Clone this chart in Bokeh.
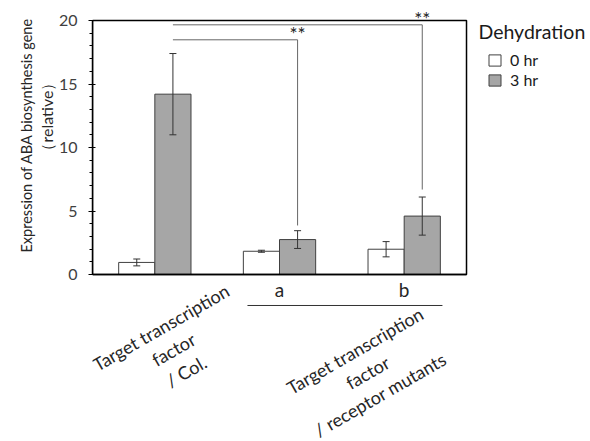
from bokeh.plotting import figure
from bokeh.models import (ColumnDataSource, Range1d, LinearAxis, SingleIntervalTicker,
                          FixedTicker, Label, Legend, LegendItem, Title, BoxAnnotation)
from bokeh.transform import dodge
from bokeh.core.properties import value
from bokeh.embed import file_html
from bokeh.resources import INLINE

# ---------------- data ----------------
groups = ["Target transcription\nfactor\n/ Col.", "a", "b"]
group_x = [0, 1, 2]
hr0 = [0.95, 1.83, 1.99]
hr0_err = [0.27, 0.08, 0.60]
hr3 = [14.2, 2.75, 4.60]
hr3_err = [3.20, 0.70, 1.50]
series_labels = ["0 hr", "3 hr"]
legend_title = "Dehydration"
y_title = "Expression of ABA biosynthesis gene"
y_subtitle = "（relative）"
group_caption = "Target transcription\nfactor\n/ receptor mutants"
sig_from = [0, 0]
sig_to = [2, 1]
sig_level = [19.66, 18.48]
sig_drop = [6.69, 3.86]
sig_text = ["**", "**"]

# ---------------- layout ----------------
FONT = "Lato"
W, H = 590, 441
LEFT = 92
PX_X, PX_Y = 124.67, 12.7
x_lo, x_hi = -0.5, 2.5
y_lo, y_hi = 0, 20
top_pad = 20
frame_w = W - LEFT
frame_h = H
x_end = x_lo + frame_w / PX_X
y_end = y_hi + top_pad / PX_Y
y_start = y_end - frame_h / PX_Y
OFF = 0.145
BW = 0.29
STAR_LIFT = 0.5
INK = "#262626"

p = figure(width=W, height=H, x_range=Range1d(x_lo, x_end), y_range=Range1d(y_start, y_end),
           output_backend="svg", toolbar_location=None, x_axis_type=None, y_axis_type=None,
           min_border_left=LEFT, min_border_right=0, min_border_top=0, min_border_bottom=0)
p.outline_line_color = None
p.background_fill_color = "white"
p.border_fill_color = "white"

yaxis = LinearAxis(bounds=(y_lo, y_hi), ticker=SingleIntervalTicker(interval=5, num_minor_ticks=5),
                   axis_line_color="black", axis_line_width=1.5,
                   major_tick_in=3, major_tick_out=4, minor_tick_in=0, minor_tick_out=3,
                   major_tick_line_color="black", minor_tick_line_color="black",
                   major_label_standoff=11, major_label_text_font=FONT,
                   major_label_text_font_size="16px", major_label_text_color="#404040")
p.add_layout(yaxis, "left")

xaxis = LinearAxis(fixed_location=0, bounds=(x_lo, x_hi), ticker=FixedTicker(ticks=[], minor_ticks=[]),
                   major_tick_in=0, major_tick_out=0, minor_tick_in=0, minor_tick_out=0,
                   major_label_standoff=0, axis_line_color="black", axis_line_width=1.5)
p.add_layout(xaxis, "below")

t1 = Title(text=y_subtitle, align="left", offset=283, standoff=0, text_font=FONT,
           text_font_size="16px", text_font_style="normal", text_color=INK)
p.add_layout(t1, "left")
t2 = Title(text=y_title, align="left", offset=189, standoff=0, text_font=FONT,
           text_font_size="14.5px", text_font_style="normal", text_color=INK)
p.add_layout(t2, "left")

src = ColumnDataSource(dict(
    x=group_x, hr0=hr0, hr3=hr3,
    hr0_lo=[v - e for v, e in zip(hr0, hr0_err)], hr0_hi=[v + e for v, e in zip(hr0, hr0_err)],
    hr3_lo=[v - e for v, e in zip(hr3, hr3_err)], hr3_hi=[v + e for v, e in zip(hr3, hr3_err)],
))

r0 = p.vbar(x=dodge("x", -OFF), top="hr0", width=BW, fill_color="white",
            line_color="#404040", line_width=1, source=src)
r3 = p.vbar(x=dodge("x", OFF), top="hr3", width=BW, fill_color="#a6a6a6",
            line_color="#404040", line_width=1, source=src)

for off, key in [(-OFF, "hr0"), (OFF, "hr3")]:
    p.segment(x0=dodge("x", off), x1=dodge("x", off), y0=key + "_lo", y1=key + "_hi",
              line_color="#333333", line_width=1, source=src)
    for end in ("_lo", "_hi"):
        p.scatter(x=dodge("x", off), y=key + end, marker="dash", size=7,
                  line_color="#333333", line_width=1, source=src)

# frame box
p.add_layout(BoxAnnotation(left=x_lo, right=x_hi, bottom=y_lo, top=y_hi, fill_alpha=0,
                           line_color="black", line_alpha=1, line_width=1.5))

# significance brackets
xs = [[group_x[f] + OFF, group_x[t] + OFF, group_x[t] + OFF] for f, t in zip(sig_from, sig_to)]
ys = [[lv, lv, d] for lv, d in zip(sig_level, sig_drop)]
p.multi_line(xs, ys, line_color="#666666", line_width=1)
p.text(x=[group_x[t] + OFF for t in sig_to], y=[lv + STAR_LIFT for lv in sig_level], text=sig_text,
       text_align="center", text_baseline="middle", text_font=value(FONT),
       text_font_size="19px", text_color="#222222")

# group labels
p.text(x=group_x[1:], y=[-1.22, -1.22], text=groups[1:], text_align="center",
       text_baseline="middle", text_font=value(FONT), text_font_size="19px", text_color=INK)
p.add_layout(Label(x=0.150, y=-5.90, text=groups[0], angle=30, angle_units="deg",
                   text_align="center", text_baseline="middle", text_font=FONT,
                   text_font_size="18px", text_line_height=1.15, text_color=INK))
p.segment(x0=[group_x[1] - 0.257], x1=[group_x[2] + 0.307], y0=[-2.44], y1=[-2.44],
          line_color="#333333", line_width=1)
p.add_layout(Label(x=1.706, y=-7.72, text=group_caption, angle=30, angle_units="deg",
                   text_align="center", text_baseline="middle", text_font=FONT,
                   text_font_size="18px", text_line_height=1.15, text_color=INK))

# legend
legend = Legend(items=[LegendItem(label=series_labels[0], renderers=[r0]),
                       LegendItem(label=series_labels[1], renderers=[r3])],
                location=(395, 352), glyph_width=15, glyph_height=14, label_standoff=8,
                spacing=1, padding=0, margin=0, border_line_color=None,
                background_fill_alpha=0, label_text_font=FONT, label_text_font_size="16px",
                label_text_color="#1a1a1a", label_height=14)
p.add_layout(legend)
p.add_layout(Label(x=2.596, y=19.17, text=legend_title, text_baseline="middle",
                   text_font=FONT, text_font_size="19.5px", text_color="#1a1a1a"))

open("out.html", "w").write(file_html(p, INLINE))
